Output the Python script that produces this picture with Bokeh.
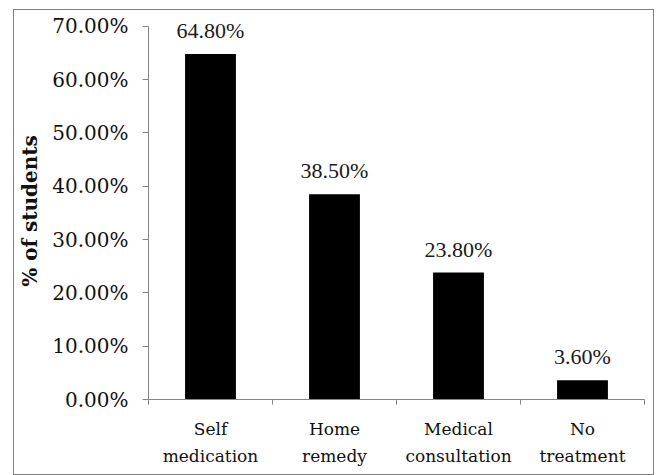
from bokeh.plotting import figure
from bokeh.models import ColumnDataSource, Range1d, FixedTicker, PrintfTickFormatter, LabelSet
from bokeh.embed import file_html
from bokeh.resources import INLINE

categories = ["Self\nmedication", "Home\nremedy", "Medical\nconsultation", "No\ntreatment"]
values = [64.8, 38.5, 23.8, 3.6]
value_labels = ["64.80%", "38.50%", "23.80%", "3.60%"]
y_ticks = [0, 10, 20, 30, 40, 50, 60, 70]

xs = [i + 0.5 for i in range(len(categories))]
source = ColumnDataSource(data=dict(x=xs, top=values, label=value_labels))

p = figure(width=641, height=466, output_backend="svg", toolbar_location=None,
           x_range=Range1d(0, len(categories)), y_range=Range1d(0, 72),
           min_border_left=134, min_border_right=11, min_border_top=5, min_border_bottom=77,
           margin=(9, 0, 0, 13))
p.styles = {"border": "1px solid #808080"}
p.outline_line_color = None
p.xgrid.visible = False
p.ygrid.visible = False

p.vbar(x="x", top="top", width=0.41, bottom=0, source=source, fill_color="black", line_color=None)

labels = LabelSet(x="x", y="top", text="label", source=source, text_align="center",
                  text_baseline="alphabetic", y_offset=16, text_font="Liberation Sans",
                  text_font_size="22px", text_color="#1a1a1a")
p.add_layout(labels)

axis_color = "#868686"
# y axis
ya = p.yaxis[0]
ya.bounds = (0, 70)
ya.ticker = FixedTicker(ticks=y_ticks)
ya.formatter = PrintfTickFormatter(format="%.2f%%")
ya.axis_line_color = axis_color
ya.major_tick_line_color = axis_color
ya.major_tick_out = 6
ya.major_tick_in = 0
ya.minor_tick_line_color = None
ya.major_label_standoff = 14
ya.major_label_text_font = "DejaVu Serif"
ya.major_label_text_font_size = "20px"
ya.major_label_text_color = "#111111"
ya.axis_label = "% of  students"
ya.axis_label_text_font = "DejaVu Serif"
ya.axis_label_text_font_style = "bold"
ya.axis_label_text_font_size = "20px"
ya.axis_label_text_color = "#111111"
ya.axis_label_standoff = 7

# x axis
xa = p.xaxis[0]
xa.ticker = FixedTicker(ticks=xs, minor_ticks=list(range(len(categories) + 1)))
xa.major_label_overrides = {x: c for x, c in zip(xs, categories)}
xa.axis_line_color = axis_color
xa.major_tick_line_color = None
xa.minor_tick_line_color = axis_color
xa.minor_tick_out = 5
xa.minor_tick_in = 0
xa.major_tick_out = 5
xa.major_tick_in = 0
xa.major_label_standoff = 14
xa.major_label_text_font = "DejaVu Serif"
xa.major_label_text_font_size = "17px"
xa.major_label_text_line_height = 1.35
xa.major_label_text_color = "#111111"

open("out.html", "w").write(file_html(p, INLINE))
